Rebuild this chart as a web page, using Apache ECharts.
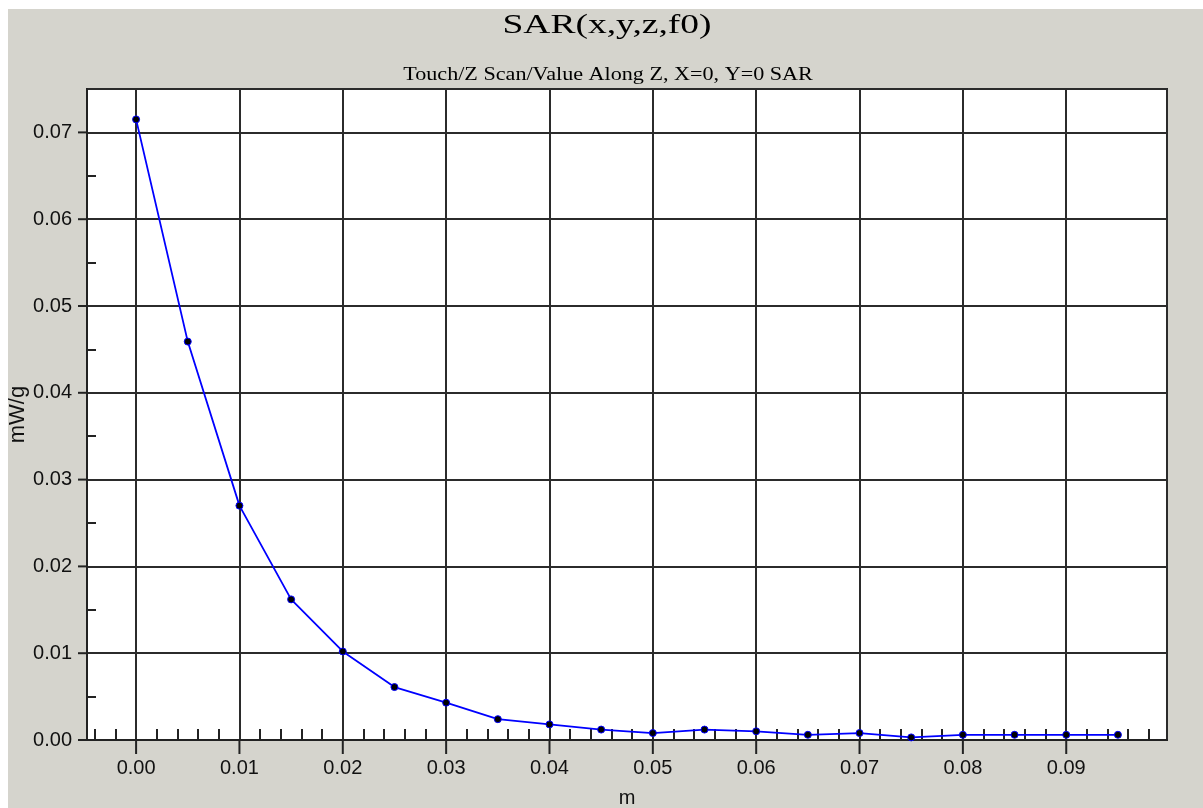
<!DOCTYPE html>
<html>
<head>
<meta charset="utf-8">
<script src="https://cdn.jsdelivr.net/npm/echarts@6/dist/echarts.min.js"></script>
<style>
html,body{margin:0;padding:0;background:#fff;}
#chart{width:1203px;height:808px;}
</style>
</head>
<body>
<div id="chart"></div>
<script>
// ---- data ----
const titleText = 'SAR(x,y,z,f0)';
const subtitleText = 'Touch/Z Scan/Value Along Z, X=0, Y=0 SAR';
const xName = 'm';
const yName = 'mW/g';
const xVals = [0, 0.005, 0.01, 0.015, 0.02, 0.025, 0.03, 0.035, 0.04, 0.045, 0.05, 0.055, 0.06, 0.065, 0.07, 0.075, 0.08, 0.085, 0.09, 0.095];
const yVals = [0.0715, 0.0459, 0.0270, 0.0162, 0.0102, 0.0061, 0.0043, 0.0024, 0.0018, 0.0012, 0.0008, 0.0012, 0.0010, 0.0006, 0.0008, 0.0003, 0.0006, 0.0006, 0.0006, 0.0006];
const xTicks = [0, 0.01, 0.02, 0.03, 0.04, 0.05, 0.06, 0.07, 0.08, 0.09];
const xTickLabels = ['0.00', '0.01', '0.02', '0.03', '0.04', '0.05', '0.06', '0.07', '0.08', '0.09'];
const yTicks = [0, 0.01, 0.02, 0.03, 0.04, 0.05, 0.06, 0.07];
const yTickLabels = ['0.00', '0.01', '0.02', '0.03', '0.04', '0.05', '0.06', '0.07'];
const xRange = [-0.00475, 0.09975];
const yRange = [0, 0.075];

// ---- chart ----
function labelFor(ticks, labels) {
  return function (v) {
    for (let i = 0; i < ticks.length; i++) {
      if (Math.abs(ticks[i] - v) < 1e-9) return labels[i];
    }
    return '';
  };
}
const tickColor = '#222';
// outward major ticks, placed through the axes' own scales (api.coord)
function majorTickRenderer(dx, dy) {
  return function (params, api) {
    const p = api.coord([api.value(0), api.value(1)]);
    return {type: 'line', silent: true,
      shape: {x1: p[0], y1: p[1], x2: p[0] + dx, y2: p[1] + dy},
      style: {stroke: tickColor, lineWidth: 2}};
  };
}
const chart = echarts.init(document.getElementById('chart'), null, {renderer: 'canvas'});
const gridColor = '#2b2b2b';
const labelFont = {fontFamily: 'Liberation Sans, Arial, sans-serif', fontSize: 20, color: '#111'};
const option = {
  backgroundColor: '#d5d4cd',
  animation: false,
  graphic: [
    {type: 'rect', x: 0, y: 0, shape: {width: 1203, height: 9}, style: {fill: '#ffffff'}, z: 100},
    {type: 'rect', x: 0, y: 0, shape: {width: 8, height: 808}, style: {fill: '#ffffff'}, z: 100},
    {type: 'text', x: 607, y: 26, scaleX: 1.34,
      style: {text: titleText, fontFamily: 'Liberation Serif, Times New Roman, serif', fontSize: 28,
        fill: '#000', align: 'center', verticalAlign: 'middle'}},
    {type: 'text', x: 608, y: 75, scaleX: 1.23,
      style: {text: subtitleText, fontFamily: 'Liberation Serif, Times New Roman, serif', fontSize: 18,
        fill: '#000', align: 'center', verticalAlign: 'middle'}}
  ],
  grid: {left: 87, top: 89, right: 36, bottom: 68, show: true, backgroundColor: '#ffffff',
    borderColor: '#222', borderWidth: 2, containLabel: false, outerBoundsMode: 'none'},
  xAxis: [
    {type: 'value', position: 'bottom', min: xRange[0], max: xRange[1], splitNumber: 10,
      name: xName, nameLocation: 'middle', nameGap: 48, nameMoveOverlap: false,
      nameTextStyle: Object.assign({}, labelFont),
      axisLine: {show: true, onZero: false, lineStyle: {color: tickColor, width: 2}},
      axisTick: {show: false, inside: true},
      axisLabel: Object.assign({show: true, margin: 18, customValues: xTicks, formatter: labelFor(xTicks, xTickLabels),
        showMinLabel: true, showMaxLabel: true}, labelFont),
      splitLine: {show: true, lineStyle: {color: gridColor, width: 2}},
      minorTick: {show: true, splitNumber: 5, length: 11, lineStyle: {color: tickColor, width: 2}}}
  ],
  yAxis: [
    {type: 'value', position: 'left', min: yRange[0], max: yRange[1], interval: 0.01,
      name: yName, nameLocation: 'middle', nameGap: 58, nameMoveOverlap: false,
      nameTextStyle: Object.assign({}, labelFont, {fontSize: 22}),
      axisLine: {show: true, onZero: false, lineStyle: {color: tickColor, width: 2}},
      axisTick: {show: false, inside: true},
      axisLabel: Object.assign({show: true, margin: 15, customValues: yTicks, formatter: labelFor(yTicks, yTickLabels)}, labelFont),
      splitLine: {show: true, lineStyle: {color: gridColor, width: 2}},
      minorTick: {show: true, splitNumber: 2, length: 9, lineStyle: {color: tickColor, width: 2}}}
  ],
  series: [
    {
      type: 'line',
      xAxisIndex: 0, yAxisIndex: 0,
      data: xVals.map((x, i) => [x, yVals[i]]),
      symbol: 'circle', symbolSize: 7,
      itemStyle: {color: '#000', borderColor: '#0000ff', borderWidth: 1},
      lineStyle: {color: '#0000ff', width: 1.8},
      z: 5
    },
    {
      type: 'custom', name: 'xMajorTicks', silent: true, clip: false,
      data: xTicks.map(v => [v, yRange[0]]),
      renderItem: majorTickRenderer(0, 14), z: 4
    },
    {
      type: 'custom', name: 'yMajorTicks', silent: true, clip: false,
      data: yTicks.map(v => [xRange[0], v]),
      renderItem: majorTickRenderer(-9, 0), z: 4
    }
  ]
};
chart.setOption(option);
</script>
</body>
</html>
